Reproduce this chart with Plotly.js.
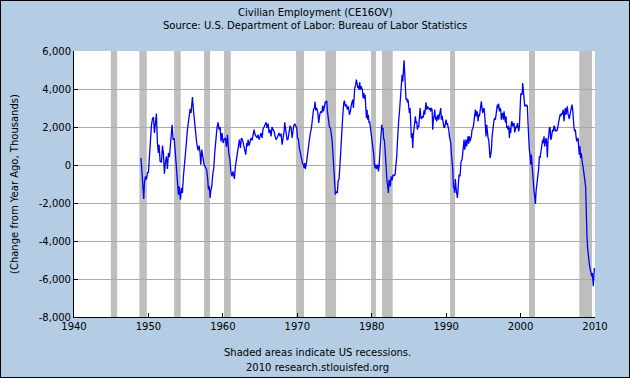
<!DOCTYPE html>
<html>
<head>
<meta charset="utf-8">
<script src="https://cdn.plot.ly/plotly-3.0.1.min.js"></script>
<style>
  html, body { margin: 0; padding: 0; background: #B4CDE4; }
  #chart { width: 628px; height: 376px; border: 1px solid #000; }
</style>
</head>
<body>
<div id="chart"></div>
<script>
var years = [
1949.00,1949.10,1949.19,1949.28,1949.37,1949.46,1949.60,1949.73,1949.87,1950.00,1950.13,1950.27,1950.40,1950.54,1950.67,1950.81,1950.94,1951.07,1951.21,1951.34,1951.43,1951.57,1951.75,1951.88,1952.01,1952.15,1952.28,1952.42,1952.55,1952.69,1952.82,1952.95,1953.09,1953.18,1953.31,1953.45,1953.58,1953.67,1953.81,1953.94,1954.03,1954.12,1954.21,1954.30,1954.43,1954.57,1954.70,1954.88,1955.06,1955.24,1955.42,1955.60,1955.73,1955.82,1955.91,1956.04,1956.18,1956.31,1956.49,1956.67,1956.81,1956.94,1957.03,1957.16,1957.30,1957.48,1957.66,1957.84,1957.97,1958.06,1958.19,1958.28,1958.37,1958.51,1958.64,1958.78,1958.91,1959.04,1959.22,1959.36,1959.49,1959.63,1959.76,1959.90,1960.03,1960.16,1960.34,1960.48,1960.61,1960.79,1960.92,1961.10,1961.24,1961.37,1961.55,1961.69,1961.82,1961.96,1962.09,1962.22,1962.36,1962.49,1962.63,1962.81,1962.94,1963.08,
1963.12,1963.21,1963.30,1963.39,1963.52,1963.66,1963.79,1963.93,1964.06,1964.19,1964.33,1964.46,1964.60,1964.73,1964.87,1965.00,1965.14,1965.27,1965.40,1965.54,1965.67,1965.81,1965.94,1966.08,1966.21,1966.34,1966.48,1966.61,1966.75,1966.88,1967.02,1967.15,1967.28,1967.42,1967.55,1967.69,1967.82,1967.96,1968.09,1968.23,1968.31,1968.40,1968.49,1968.63,1968.76,1968.90,1969.03,1969.17,1969.30,1969.39,1969.52,1969.66,1969.79,1969.93,1970.02,1970.15,1970.28,1970.42,1970.55,1970.69,1970.82,1970.91,1971.00,1971.09,1971.23,1971.36,1971.49,1971.63,1971.76,1971.90,1972.03,1972.17,1972.30,1972.39,1972.48,1972.61,1972.75,1972.88,1973.02,1973.15,1973.29,1973.42,1973.51,1973.64,1973.78,1973.87,1973.96,1974.05,1974.18,1974.32,1974.45,1974.58,1974.67,1974.76,1974.85,1974.94,1975.03,1975.12,1975.26,1975.39,1975.48,1975.61,1975.75,1975.88,1975.97,1976.11,1976.24,1976.33,1976.46,1976.60,1976.73,1976.87,1977.00,1977.14,1977.27,
1977.36,1977.45,1977.54,1977.63,1977.72,1977.85,1977.94,1978.03,1978.12,1978.21,1978.30,1978.39,1978.48,1978.57,1978.66,1978.75,1978.84,1978.93,1979.02,1979.11,1979.20,1979.29,1979.38,1979.46,1979.55,1979.64,1979.73,1979.82,1979.91,1980.00,1980.09,1980.18,1980.27,1980.36,1980.45,1980.54,1980.63,1980.72,1980.81,1980.90,1980.99,1981.08,1981.17,1981.26,1981.35,1981.43,1981.52,1981.61,1981.70,1981.79,1981.88,1981.97,1982.06,1982.15,1982.24,1982.33,1982.42,1982.51,1982.60,1982.73,1982.87,1983.00,1983.14,1983.27,1983.36,1983.45,1983.54,1983.63,1983.72,1983.81,1983.90,1983.99,1984.08,1984.17,1984.26,1984.35,1984.44,1984.52,1984.61,1984.70,1984.79,1984.88,1984.97,1985.06,1985.15,1985.24,1985.33,1985.42,1985.51,1985.60,1985.69,1985.78,1985.87,1985.96,1986.05,1986.14,1986.23,1986.32,1986.41,1986.50,1986.58,1986.67,1986.76,1986.85,1986.94,1987.03,1987.12,1987.21,1987.30,1987.39,1987.48,1987.57,1987.66,1987.75,1987.84,1987.93,1988.02,1988.11,1988.20,1988.29,1988.38,1988.47,1988.56,1988.64,1988.73,1988.82,1988.91,1989.00,1989.09,1989.18,1989.27,1989.36,1989.45,1989.54,1989.63,1989.72,1989.81,1989.90,1989.99,1990.08,1990.17,1990.26,1990.35,1990.44,1990.53,1990.62,1990.70,1990.79,1990.88,1990.97,1991.06,1991.15,1991.24,1991.33,1991.42,1991.51,
1991.60,1991.73,1991.87,1992.00,1992.14,1992.23,1992.32,1992.41,1992.50,1992.59,1992.67,1992.76,1992.85,1992.94,1993.03,1993.12,1993.21,1993.30,1993.39,1993.48,1993.57,1993.66,1993.75,1993.84,1993.93,1994.02,1994.11,1994.20,1994.29,1994.38,1994.47,1994.56,1994.65,1994.73,1994.82,1994.91,1995.00,1995.09,1995.18,1995.27,1995.36,1995.45,1995.54,1995.63,1995.72,1995.81,1995.90,1995.99,1996.08,1996.17,1996.26,1996.35,1996.44,1996.53,1996.62,1996.71,1996.79,1996.88,1996.97,1997.06,1997.15,1997.24,1997.33,1997.42,1997.51,1997.60,1997.69,1997.78,1997.87,1997.96,1998.05,1998.14,1998.23,1998.32,1998.41,1998.50,1998.59,1998.68,1998.76,1998.85,1998.94,1999.03,1999.12,1999.21,1999.30,1999.39,1999.48,1999.57,1999.66,1999.75,1999.84,1999.93,2000.02,2000.11,2000.20,2000.29,2000.38,2000.47,2000.56,2000.65,2000.74,2000.82,2000.91,2001.00,2001.09,2001.18,2001.27,2001.36,2001.45,2001.54,2001.63,2001.72,2001.81,2001.90,2001.99,2002.08,2002.17,2002.26,2002.35,2002.44,2002.53,2002.62,2002.71,2002.80,2002.88,2002.97,2003.06,2003.15,2003.24,2003.33,2003.42,2003.51,2003.60,2003.69,2003.78,2003.87,2003.96,2004.05,2004.14,2004.23,2004.32,2004.41,2004.50,2004.59,2004.68,2004.77,2004.85,2004.94,2005.03,2005.12,2005.21,2005.30,2005.39,2005.48,2005.57,2005.66,2005.75,
2005.83,2005.92,2006.01,2006.10,2006.19,2006.28,2006.37,2006.46,2006.55,2006.64,2006.73,2006.82,2006.91,2007.00,2007.09,2007.18,2007.27,2007.36,2007.45,2007.54,2007.63,2007.72,2007.80,2007.89,2007.98,2008.07,2008.16,2008.21,2008.30,2008.39,2008.48,2008.57,2008.66,2008.74,2008.79,2008.83,2008.92,2009.01,2009.10,2009.19,2009.28,2009.37,2009.46,2009.55,2009.64,2009.73,2009.77,2009.86,2009.91
];

// Civilian employment, change from year ago (thousands)
var employmentChange = [
370,-333,-596,-1123,-1789,-947,-596,-772,-421,-386,631,1508,2070,2420,2526,1684,2122,2701,1158,631,1070,193,140,1017,631,-456,140,456,-210,631,421,947,1508,2122,1333,1421,807,281,-509,-1123,-1561,-1123,-1649,-1824,-1210,-1473,-596,456,982,1859,2385,2947,2736,3262,3578,2912,2385,1649,1158,772,1017,631,17,807,368,17,-105,-281,-772,-1298,-1123,-1736,-1386,-1123,-509,-158,631,1333,2000,2245,1859,2000,1245,1684,1158,1333,1421,947,1596,631,368,-421,-596,-333,-737,-70,246,631,807,1333,895,1421,1333,1017,807,544,
719,1158,982,1333,1017,1193,1421,1298,1508,1859,1596,1508,1421,1596,1333,1508,1684,1421,1894,2000,2122,2245,1947,2175,1684,1859,1508,2000,1859,1771,1508,1333,1421,1596,1684,1508,1649,1070,1333,1771,2245,1947,1508,1333,1368,1719,2070,1947,1421,1684,2070,2175,2000,1947,1421,1368,895,544,281,105,17,-158,105,-210,105,631,1017,1333,1684,1947,2385,2912,3000,3333,2877,3000,2771,2210,2648,2824,2736,3122,2824,3087,3350,3262,3385,2824,2210,2000,1947,1596,1333,807,105,-596,-1123,-1561,-1386,-1473,-859,-737,105,1333,2122,2596,3262,3385,3087,3175,2912,3087,2648,2824,3175,
3350,3438,3000,3613,4052,4227,4490,4315,4052,4175,3964,4350,3964,4140,4052,3964,3525,3789,3473,3701,3087,2473,2912,2385,2648,2210,2298,2035,1771,1333,1158,895,544,17,-158,17,-210,-70,17,-333,-70,544,1158,1596,2122,1859,1947,1368,1333,807,105,-333,-859,-1123,-1473,-772,-1123,-1123,-596,-807,-509,-561,-509,-70,456,1158,2000,2385,2736,3262,3964,4490,4753,4403,5104,5508,4753,4140,3438,3525,3297,3438,3087,2736,3000,2035,1421,1684,895,1596,2035,2210,2561,2210,2298,1859,2070,2000,2736,3000,2561,2420,2561,2473,2561,2877,2648,2912,3297,2912,3087,3000,3000,2912,3000,2824,3000,2912,1859,2473,2561,2912,2385,2561,2298,2473,2648,2385,2561,2824,3000,2385,2596,2385,2035,1947,2000,2122,2385,2122,2210,2000,1859,1508,1333,1158,631,368,-158,-1123,-1210,-1473,-737,-1210,-1473,-1736,
-1298,-509,-596,193,281,544,982,1333,807,1158,1333,982,1333,1508,1123,1508,1245,1333,1508,1859,1894,2035,2385,2648,2912,2561,2824,2736,2298,2648,2561,2824,3087,3350,3000,2736,2912,3000,2648,2035,1508,2122,1508,1421,1333,544,368,544,807,1508,1947,2122,2385,2473,2385,2648,2912,3175,3000,3227,2824,3000,2912,2385,2648,2736,2385,2824,2473,2245,2561,1947,2035,1859,2070,1421,1947,1684,2210,2298,2035,2122,2210,1719,1947,2035,1947,2210,2035,1771,2035,3087,3701,3789,3701,4315,3789,3350,3087,3175,3087,3175,3087,2210,1070,807,544,17,544,-70,-421,-772,-1386,-1649,-2052,-1386,-1123,-859,-509,-158,456,368,631,982,1158,1333,1158,1508,982,1333,1421,1158,400,1333,1508,1947,2000,1333,1421,1684,1859,1771,2070,2000,1771,1859,1771,1859,2035,2122,2385,2648,2561,2736,2648,2824,2912,
2298,2824,3000,2648,2824,3087,2701,2561,2420,2648,2824,3087,3175,2912,2210,1947,1771,1859,1508,1245,1333,1421,982,544,982,368,631,193,105,-70,-421,-772,-859,-1123,-1824,-2789,-3754,-4368,-4806,-4981,-5332,-5508,-5683,-5858,-5683,-6122,-6385,-5771,-5420
];

// US recessions (shaded), decimal years
var recessionStart = [1944.95, 1948.78, 1953.45, 1957.48, 1960.16, 1969.84, 1973.76, 1979.91, 1981.39, 1990.53, 2001.14, 2007.89];
var recessionEnd   = [1945.80, 1949.78, 1954.34, 1958.28, 1961.06, 1970.91, 1975.21, 1980.58, 1982.82, 1991.20, 2001.94, 2009.60];

var yTickVals = [-8000, -6000, -4000, -2000, 0, 2000, 4000, 6000];
var yTickText = ["-8,000", "-6,000", "-4,000", "-2,000", "0", "2,000", "4,000", "6,000"];
var xTickVals = [1940, 1950, 1960, 1970, 1980, 1990, 2000, 2010];
var xTickText = ["1940", "1950", "1960", "1970", "1980", "1990", "2000", "2010"];

var FONT = "DejaVu Sans, Verdana, sans-serif";

var shapes = recessionStart.map(function (s, i) {
  return {
    type: "rect", xref: "x", yref: "paper",
    x0: s, x1: recessionEnd[i], y0: 0, y1: 1,
    fillcolor: "#BEBEBE", line: { width: 0 }, layer: "below"
  };
});

var trace = {
  x: years, y: employmentChange, type: "scatter", mode: "lines",
  line: { color: "#0000FF", width: 1.3 }, hoverinfo: "skip"
};

var layout = {
  width: 628, height: 376,
  margin: { l: 73, r: 34, t: 50, b: 60 },
  paper_bgcolor: "#B4CDE4",
  plot_bgcolor: "#FFFFFF",
  showlegend: false,
  font: { family: FONT, size: 10, color: "#000" },
  xaxis: {
    range: [1940, 2010], tickmode: "array", tickvals: xTickVals, ticktext: xTickText,
    ticks: "inside", ticklen: 4, tickcolor: "#000", showgrid: false, zeroline: false,
    showline: true, linecolor: "#000", linewidth: 1,
    tickfont: { family: FONT, size: 10, color: "#000" }
  },
  yaxis: {
    range: [-8000, 6000], tickmode: "array", tickvals: yTickVals, ticktext: yTickText,
    ticks: "inside", ticklen: 4, tickcolor: "#000", showgrid: true, gridcolor: "#AAAAAA", gridwidth: 1,
    zeroline: false, showline: true, linecolor: "#000", linewidth: 1,
    tickfont: { family: FONT, size: 10, color: "#000" }
  },
  shapes: shapes,
  annotations: [
    { text: "Civilian Employment (CE16OV)", xref: "paper", yref: "paper", x: 0.4626, y: 1.1466,
      xanchor: "center", yanchor: "middle", showarrow: false, font: { family: FONT, size: 10, color: "#000" } },
    { text: "Source: U.S. Department of Labor: Bureau of Labor Statistics", xref: "paper", yref: "paper", x: 0.4626, y: 1.0977,
      xanchor: "center", yanchor: "middle", showarrow: false, font: { family: FONT, size: 10, color: "#000" } },
    { text: "(Change from Year Ago, Thousands)", xref: "paper", yref: "paper", x: -0.1152, y: 0.5, textangle: -90,
      xanchor: "center", yanchor: "middle", showarrow: false, font: { family: FONT, size: 10, color: "#000" } },
    { text: "Shaded areas indicate US recessions.", xref: "paper", yref: "paper", x: 0.4683, y: -0.1316,
      xanchor: "center", yanchor: "middle", showarrow: false, font: { family: FONT, size: 10, color: "#000" } },
    { text: "2010 research.stlouisfed.org", xref: "paper", yref: "paper", x: 0.4683, y: -0.188,
      xanchor: "center", yanchor: "middle", showarrow: false, font: { family: FONT, size: 10, color: "#000" } }
  ]
};

Plotly.newPlot("chart", [trace], layout, { staticPlot: true, displayModeBar: false });
</script>
</body>
</html>
